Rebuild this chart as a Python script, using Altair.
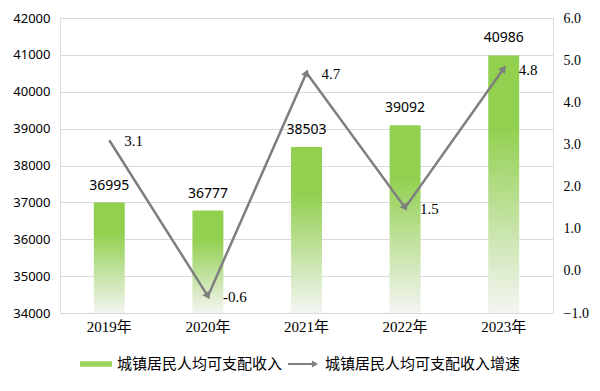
import math
import altair as alt
import pandas as pd

years = ["2019年", "2020年", "2021年", "2022年", "2023年"]
income = [36995, 36777, 38503, 39092, 40986]
growth = [3.1, -0.6, 4.7, 1.5, 4.8]

legend_names = ["城镇居民人均可支配收入", "城镇居民人均可支配收入增速"]

W, H = 493, 295
LEFT_MIN, LEFT_MAX = 34000, 42000
RIGHT_MIN, RIGHT_MAX = -1, 6

step = W / len(years)
pxu = H / (RIGHT_MAX - RIGHT_MIN)
angles = [0.0]
for i in range(1, len(growth)):
    dxs = step
    dys = -(growth[i] - growth[i - 1]) * pxu
    angles.append(math.degrees(math.atan2(dxs, -dys)) % 360)

df = pd.DataFrame({
    "year": years,
    "income": income,
    "growth": growth,
    "ang": angles,
    "base": [LEFT_MIN] * len(years),
    "glabel": [f"{g:.1f}" for g in growth],
})

GREEN = "#92D050"
GRAY = "#7F7F7F"
SERIF = "Liberation Serif, Noto Sans CJK SC"
SANS = "Noto Sans, Noto Sans CJK SC"

x_enc = alt.X("year:N", sort=years, title=None,
              scale=alt.Scale(paddingInner=0.686, paddingOuter=0.343),
              axis=alt.Axis(labelAngle=0, domain=False, ticks=False, labelPadding=6,
                            labelFont=SERIF, labelFontSize=15, labelColor="#000"))

grad = alt.Gradient(gradient="linear", x1=0, x2=0, y1=0, y2=1,
                    stops=[alt.GradientStop(color=GREEN, offset=0),
                           alt.GradientStop(color=GREEN, offset=0.28),
                           alt.GradientStop(color="#F4F5F3", offset=1)])

y_left = alt.Y("income:Q", title=None,
               scale=alt.Scale(domain=[LEFT_MIN, LEFT_MAX], nice=False, zero=False),
               axis=alt.Axis(values=list(range(LEFT_MIN, LEFT_MAX + 1, 1000)), format="d",
                             labelOverlap=False, tickCount=9,
                             domain=False, ticks=False, grid=True, gridColor="#D9D9D9",
                             labelPadding=10, labelFont=SANS, labelFontSize=13, labelColor="#000"))

bars = alt.Chart(df).mark_bar(color=grad).encode(x=x_enc, y=y_left, y2="base:Q")
bar_labels = alt.Chart(df).mark_text(dy=-17, font=SANS, fontSize=14, color="#000").encode(
    x=x_enc, y=y_left, text=alt.Text("income:Q", format="d"))

left = alt.layer(bars, bar_labels)

y_right = alt.Y("growth:Q", title=None,
                scale=alt.Scale(domain=[RIGHT_MIN, RIGHT_MAX], nice=False, zero=False),
                axis=alt.Axis(orient="right", values=list(range(RIGHT_MIN, RIGHT_MAX + 1)), format=".1f",
                              labelOverlap=False, tickCount=8,
                              domain=False, ticks=False, grid=False, labelPadding=10,
                              labelFont=SERIF, labelFontSize=14, labelColor="#000"))

line = alt.Chart(df).mark_line(color=GRAY, strokeWidth=2.5).encode(x=x_enc, y=y_right)
arrows = alt.Chart(df).transform_filter("datum.ang > 0").mark_point(
    shape="triangle-up", filled=True, color=GRAY, size=70, opacity=1).encode(
    x=x_enc, y=y_right, angle=alt.Angle("ang:Q", scale=None))
line_labels = alt.Chart(df).mark_text(align="left", dx=15, dy=1, font=SERIF, fontSize=15,
                                      color="#000").encode(
    x=x_enc, y=y_right, text="glabel:N")

right = alt.layer(line, arrows, line_labels)

# legend
leg_sw = alt.Chart(df).transform_filter("datum.year == '2019年'").mark_rect(
    color=alt.Gradient(gradient="linear", x1=0, x2=0, y1=0, y2=1,
                       stops=[alt.GradientStop(color="#B5E08A", offset=0),
                              alt.GradientStop(color=GREEN, offset=0.5),
                              alt.GradientStop(color="#B5E08A", offset=1)])).encode(
    x=alt.value(20), x2=alt.value(52), y=alt.value(343), y2=alt.value(349))
leg_t1 = alt.Chart(df).transform_filter("datum.year == '2019年'").mark_text(
    align="left", baseline="middle", font="Noto Sans CJK SC", fontSize=15, color="#000",
    text=legend_names[0]).encode(x=alt.value(57), y=alt.value(346))
leg_line = alt.Chart(df).transform_filter("datum.year == '2019年'").mark_rule(
    color=GRAY, strokeWidth=2).encode(x=alt.value(228), x2=alt.value(253), y=alt.value(346))
leg_arrow = alt.Chart(df).transform_filter("datum.year == '2019年'").mark_point(
    shape="triangle-right", filled=True, color=GRAY, size=50, opacity=1).encode(
    x=alt.value(255), y=alt.value(346))
leg_t2 = alt.Chart(df).transform_filter("datum.year == '2019年'").mark_text(
    align="left", baseline="middle", font="Noto Sans CJK SC", fontSize=15, color="#000",
    text=legend_names[1]).encode(x=alt.value(265), y=alt.value(346))

legend = alt.layer(leg_sw, leg_t1, leg_line, leg_arrow, leg_t2)

chart = alt.layer(left, right, legend).resolve_scale(y="independent").properties(
    width=W, height=H,
    autosize=alt.AutoSizeParams(type="none"),
    padding={"left": 52, "top": 10, "right": 39, "bottom": 70},
).configure_view(stroke=None).configure(background="white")

chart.save("out.html", embed_options={"renderer": "svg", "actions": False})
